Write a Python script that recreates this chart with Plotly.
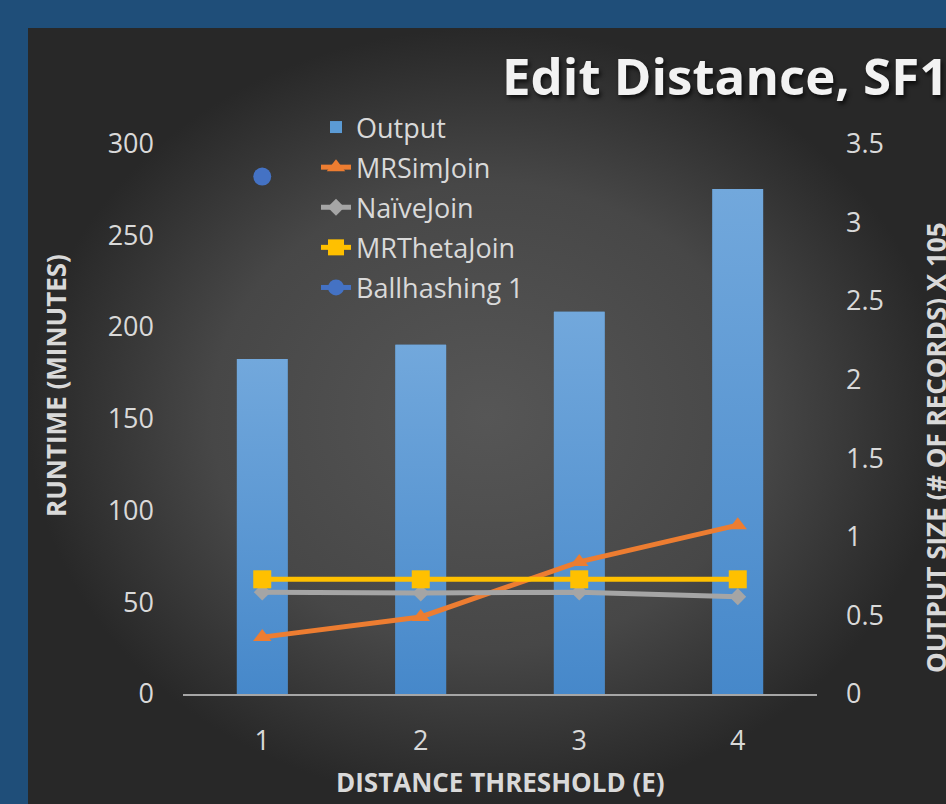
import plotly.graph_objects as go

# ---- data -------------------------------------------------------------
thresholds = [1, 2, 3, 4]
output_size = [2.13, 2.22, 2.43, 3.21]          # output size, x 10^5 records
mrsimjoin = [31, 42, 72, 92]                     # runtime, minutes
naivejoin = [55.5, 55, 55.5, 53]
mrthetajoin = [62.5, 62.5, 62.5, 62.5]
ballhashing1 = [282, None, None, None]

runtime_ticks = [0, 50, 100, 150, 200, 250, 300]
output_ticks = [0, 0.5, 1, 1.5, 2, 2.5, 3, 3.5]
output_tick_text = ["0", "0.5", "1", "1.5", "2", "2.5", "3", "3.5"]

# ---- page geometry (pixels) ---------------------------------------------
W, H = 946, 804
PLOT_L, PLOT_R = 183, 817
PLOT_T, PLOT_B = 143.5, 694
BAR_W = 0.32


def px_x(v):
    return v / W


def px_y(v):
    return 1 - v / H


FONT = "Open Sans"
TXT = "#D9D9D9"
BAR_TOP, BAR_MID, BAR_BOTTOM = "#72A8DC", "#5B9BD5", "#4688CA"

fig = go.Figure()

# dark panel with a radial highlight in the middle
fig.add_trace(go.Scatter(
    x=[28, W, W, 28, 28], y=[28, 28, H, H, 28],
    fill="toself", mode="none",
    fillgradient=dict(type="radial",
                      colorscale=[[0, "#565656"], [0.6, "#474747"], [1, "#282828"]]),
    xaxis="x", yaxis="y", showlegend=False, hoverinfo="skip",
))

# output size bars (right axis)
fig.add_trace(go.Bar(
    x=thresholds, y=output_size, name="Output",
    marker=dict(color=BAR_MID, line=dict(width=0)),
    width=BAR_W, xaxis="x2", yaxis="y2",
    legendgroup="g1",
))

# vertical shading laid over each bar, spanning the bar's own extent
for xv, yv in zip(thresholds, output_size):
    x0, x1 = xv - BAR_W / 2, xv + BAR_W / 2
    fig.add_trace(go.Scatter(
        x=[x0, x1, x1, x0, x0], y=[0, 0, yv, yv, 0],
        fill="toself", mode="none",
        fillgradient=dict(type="vertical",
                          colorscale=[[0, BAR_BOTTOM], [1, BAR_TOP]]),
        xaxis="x2", yaxis="y2", showlegend=False, hoverinfo="skip",
    ))

line_specs = [
    ("MRSimJoin", mrsimjoin, "#ED7D31", "triangle-up", 16),
    ("NaïveJoin", naivejoin, "#A5A5A5", "diamond", 13),
    ("MRThetaJoin", mrthetajoin, "#FFC000", "square", 18),
    ("Ballhashing 1", ballhashing1, "#4472C4", "circle", 18),
]
for i, (name, vals, col, sym, size) in enumerate(line_specs):
    fig.add_trace(go.Scatter(
        x=thresholds, y=vals, name=name, mode="lines+markers",
        line=dict(color=col, width=5),
        marker=dict(color=col, symbol=sym, size=size, line=dict(width=0)),
        xaxis="x2", yaxis="y3", legendgroup=f"g{i + 2}",
    ))

fig.update_layout(
    width=W, height=H,
    margin=dict(l=0, r=0, t=0, b=0, autoexpand=False),
    paper_bgcolor="#1F4E79",
    plot_bgcolor="rgba(0,0,0,0)",
    font=dict(family=FONT, color=TXT, size=27),
    barmode="overlay",
    showlegend=True,
    legend=dict(
        x=px_x(316), y=px_y(103), xanchor="left", yanchor="top",
        bgcolor="rgba(0,0,0,0)", borderwidth=0,
        font=dict(family=FONT, size=27, color=TXT),
        traceorder="grouped", tracegroupgap=2, itemwidth=30,
    ),
    xaxis=dict(domain=[0, 1], range=[0, W], visible=False, fixedrange=True),
    yaxis=dict(domain=[0, 1], range=[H, 0], visible=False, fixedrange=True),
    xaxis2=dict(
        domain=[px_x(PLOT_L), px_x(PLOT_R)], range=[0.5, 4.5], anchor="y2",
        tickmode="array", tickvals=thresholds, ticktext=[str(t) for t in thresholds],
        showline=True, linecolor="#A6A6A6", linewidth=2,
        showgrid=False, zeroline=False, ticks="",
        tickfont=dict(family=FONT, size=27, color=TXT), ticklabelstandoff=22,
    ),
    yaxis2=dict(
        domain=[px_y(PLOT_B), px_y(PLOT_T)], range=[0, 3.5], anchor="x2",
        side="right", tickmode="array", tickvals=output_ticks, ticktext=output_tick_text,
        showgrid=False, zeroline=False, showline=False, ticks="",
        tickfont=dict(family=FONT, size=27, color=TXT), ticklabelstandoff=28,
    ),
    yaxis3=dict(
        overlaying="y2", range=[0, 300], anchor="x2", side="left",
        tickmode="array", tickvals=runtime_ticks,
        showgrid=False, zeroline=False, showline=False, ticks="",
        tickfont=dict(family=FONT, size=27, color=TXT), ticklabelstandoff=28,
    ),
)

title_font = dict(family=FONT, size=51, color="#F2F2F2", weight=700,
                  shadow="2px 3px 4px rgba(0,0,0,0.7)")
axis_title_font = dict(family=FONT, size=26, color=TXT, weight=700)

fig.add_annotation(text="Edit Distance, SF1", xref="paper", yref="paper",
                   x=px_x(500), y=px_y(75), xanchor="left", yanchor="middle",
                   showarrow=False, font=title_font)
fig.add_annotation(text="DISTANCE THRESHOLD (E)", xref="paper", yref="paper",
                   x=px_x(500), y=px_y(782), xanchor="center", yanchor="middle",
                   showarrow=False, font=axis_title_font)
fig.add_annotation(text="RUNTIME (MINUTES)", xref="paper", yref="paper",
                   x=px_x(56), y=px_y(386), xanchor="center", yanchor="middle",
                   textangle=-90, showarrow=False, font=axis_title_font)
fig.add_annotation(text="OUTPUT SIZE (# OF RECORDS) X 105", xref="paper", yref="paper",
                   x=px_x(936), y=px_y(448), xanchor="center", yanchor="middle",
                   textangle=-90, showarrow=False, font=axis_title_font)

fig.write_html("out.html")
